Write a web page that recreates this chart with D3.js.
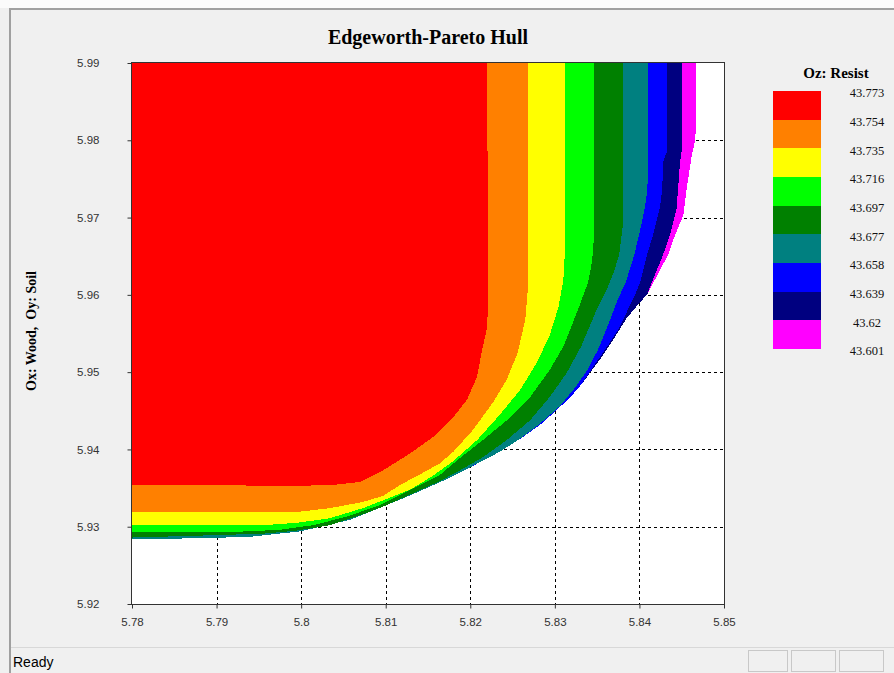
<!DOCTYPE html>
<html>
<head>
<meta charset="utf-8">
<script src="https://cdn.jsdelivr.net/npm/d3@7/dist/d3.min.js"></script>
<style>
  body { margin: 0; background: #f0f0f0; }
  svg { display: block; }
</style>
</head>
<body>
<div id="chart"></div>
<script>
// Set Dimensions
const width = 894;
const height = 673;

// Axis ticks
const xTicks = [5.78, 5.79, 5.80, 5.81, 5.82, 5.83, 5.84, 5.85];
const yTicks = [5.92, 5.93, 5.94, 5.95, 5.96, 5.97, 5.98, 5.99];

// Legend
const levelLabels = ["43.773", "43.754", "43.735", "43.716", "43.697", "43.677", "43.658", "43.639", "43.62", "43.601"];
const bandColors = ["#ff0000", "#ff8000", "#ffff00", "#00ff00", "#008000", "#008080", "#0000ff", "#000080", "#ff00ff"];

// Boundary of each band (Ox: Wood, Oy: Soil), bottom-left to top
const redEdge = [[5.78,5.9354],[5.7999,5.9353],[5.8038,5.9354],[5.8070,5.9358],[5.8097,5.9373],[5.8129,5.9395],[5.8156,5.9416],[5.8180,5.9442],[5.8196,5.9464],[5.8208,5.9494],[5.8214,5.9529],[5.8220,5.9558],[5.8221,5.9593],[5.8220,5.99]];
const orangeEdge = [[5.78,5.9319],[5.7995,5.9319],[5.8034,5.9324],[5.8073,5.9332],[5.8097,5.9340],[5.8117,5.9354],[5.8141,5.9368],[5.8164,5.9382],[5.8180,5.9397],[5.8203,5.9425],[5.8227,5.9461],[5.8243,5.9490],[5.8256,5.9525],[5.8265,5.9568],[5.8268,5.9606],[5.8268,5.99]];
const yellowEdge = [[5.78,5.9302],[5.7955,5.9302],[5.7995,5.9305],[5.8034,5.9311],[5.8073,5.9324],[5.8099,5.9335],[5.8129,5.9348],[5.8156,5.9366],[5.8180,5.9385],[5.8208,5.9412],[5.8235,5.9445],[5.8259,5.9477],[5.8279,5.9513],[5.8294,5.9548],[5.8304,5.9583],[5.8310,5.9619],[5.8312,5.9658],[5.8312,5.99]];
const greenEdge = [[5.78,5.9293],[5.7916,5.9293],[5.7975,5.9296],[5.8014,5.9302],[5.8054,5.9313],[5.8093,5.9328],[5.8132,5.9349],[5.8164,5.9367],[5.8188,5.9389],[5.8217,5.9414],[5.8247,5.9441],[5.8271,5.9468],[5.8294,5.9503],[5.8310,5.9533],[5.8326,5.9577],[5.8339,5.9615],[5.8344,5.9643],[5.8346,5.9671],[5.8346,5.99]];
const darkGreenEdge = [[5.78,5.9286],[5.7896,5.9289],[5.7955,5.9291],[5.7995,5.9295],[5.8034,5.9302],[5.8073,5.9316],[5.8099,5.9327],[5.8132,5.9343],[5.8164,5.9359],[5.8188,5.9373],[5.8215,5.9390],[5.8243,5.9412],[5.8271,5.9438],[5.8294,5.9468],[5.8314,5.9499],[5.8331,5.9533],[5.8348,5.9577],[5.8361,5.9606],[5.8370,5.9630],[5.8376,5.9652],[5.8379,5.9677],[5.8381,5.9697],[5.8381,5.99]];
const tealEdge = [[5.78,5.9284],[5.7880,5.9285],[5.7940,5.9287],[5.7999,5.9294],[5.8058,5.9309],[5.8099,5.9327],[5.8132,5.9342],[5.8173,5.9362],[5.8200,5.9377],[5.8212,5.9384],[5.8235,5.9397],[5.8259,5.9414],[5.8282,5.9433],[5.8306,5.9456],[5.8324,5.9480],[5.8338,5.9502],[5.8351,5.9529],[5.8363,5.9561],[5.8374,5.9593],[5.8384,5.9617],[5.8394,5.9652],[5.8403,5.9694],[5.8408,5.9723],[5.8410,5.9749],[5.8410,5.99]];
const blueEdge = [[5.78,5.9284],[5.7880,5.9285],[5.7940,5.9287],[5.7999,5.9294],[5.8058,5.9309],[5.8099,5.9327],[5.8132,5.9342],[5.8173,5.9362],[5.8200,5.9377],[5.8223,5.9390],[5.8241,5.9402],[5.8261,5.9415],[5.8285,5.9434],[5.8301,5.9450],[5.8318,5.9467],[5.8332,5.9485],[5.8351,5.9516],[5.8363,5.9535],[5.8375,5.9555],[5.8386,5.9580],[5.8395,5.9600],[5.8401,5.9617],[5.8409,5.9652],[5.8416,5.9677],[5.8424,5.9712],[5.8427,5.9736],[5.8428,5.9772],[5.8433,5.9787],[5.8433,5.99]];
const navyEdge = [[5.78,5.9284],[5.7880,5.9285],[5.7940,5.9287],[5.7999,5.9294],[5.8058,5.9309],[5.8099,5.9327],[5.8132,5.9342],[5.8173,5.9362],[5.8200,5.9377],[5.8223,5.9390],[5.8241,5.9402],[5.8261,5.9415],[5.8285,5.9434],[5.8301,5.9450],[5.8318,5.9467],[5.8332,5.9485],[5.8353,5.9516],[5.8369,5.9542],[5.8385,5.9570],[5.8401,5.9591],[5.8409,5.9600],[5.8415,5.9617],[5.8428,5.9652],[5.8436,5.9677],[5.8444,5.9712],[5.8448,5.9772],[5.8450,5.9787],[5.8450,5.99]];
const magentaEdge = [[5.78,5.9284],[5.7880,5.9285],[5.7940,5.9287],[5.7999,5.9294],[5.8058,5.9309],[5.8099,5.9327],[5.8132,5.9342],[5.8173,5.9362],[5.8200,5.9377],[5.8223,5.9390],[5.8241,5.9402],[5.8261,5.9415],[5.8285,5.9434],[5.8301,5.9450],[5.8318,5.9467],[5.8332,5.9485],[5.8353,5.9516],[5.8369,5.9542],[5.8385,5.9570],[5.8401,5.9591],[5.8409,5.9600],[5.8418,5.9619],[5.8434,5.9652],[5.8442,5.9677],[5.8452,5.9703],[5.8456,5.9738],[5.8462,5.9781],[5.8466,5.9800],[5.8467,5.9826],[5.8467,5.99]];

const bandEdges = [redEdge, orangeEdge, yellowEdge, greenEdge, darkGreenEdge, tealEdge, blueEdge, navyEdge, magentaEdge];

// Plot box
const plot = { left: 132, right: 724, top: 63, bottom: 604 };

var svg = d3.select("#chart")
  .append("svg")
  .attr("width", width)
  .attr("height", height);

// window frame
svg.append("rect").attr("x", 0).attr("y", 0).attr("width", width).attr("height", 8).attr("fill", "#fbfbfb");
svg.append("line").attr("x1", 10).attr("x2", width).attr("y1", 9).attr("y2", 9)
  .attr("stroke", "#a0a0a0").attr("stroke-width", 2);
svg.append("line").attr("x1", 10).attr("x2", 10).attr("y1", 8).attr("y2", height)
  .attr("stroke", "#a0a0a0").attr("stroke-width", 2);

// status bar
svg.append("line").attr("x1", 11).attr("x2", width).attr("y1", 647.5).attr("y2", 647.5)
  .attr("stroke", "#d8d8d8");
svg.append("text")
  .attr("x", 13).attr("y", 667)
  .style("font-family", "Liberation Sans, Arial, sans-serif")
  .style("font-size", "14px")
  .style("fill", "#000")
  .text("Ready");
[[748, 787], [791, 835], [839, 883]].forEach(function(p) {
  svg.append("rect")
    .attr("x", p[0] + 0.5).attr("y", 650.5)
    .attr("width", p[1] - p[0]).attr("height", 21)
    .attr("fill", "none").attr("stroke", "#c8c8c8");
});

// Scales
var xScale = d3.scaleLinear().domain([5.78, 5.85]).range([plot.left, plot.right]);
var yScale = d3.scaleLinear().domain([5.92, 5.99]).range([plot.bottom, plot.top]);

// plot background
svg.append("rect")
  .attr("x", plot.left).attr("y", plot.top)
  .attr("width", plot.right - plot.left).attr("height", plot.bottom - plot.top)
  .attr("fill", "#fff");

// dashed grid
var grid = svg.append("g").attr("stroke", "#000").attr("stroke-dasharray", "3,3").attr("stroke-width", 1);
grid.selectAll(".vg")
  .data(xTicks.slice(1, -1))
  .enter().append("line")
    .attr("x1", function(d) { return Math.round(xScale(d)) + 0.5; })
    .attr("x2", function(d) { return Math.round(xScale(d)) + 0.5; })
    .attr("y1", plot.top).attr("y2", plot.bottom);
grid.selectAll(".hg")
  .data(yTicks.slice(1, -1))
  .enter().append("line")
    .attr("y1", function(d) { return Math.round(yScale(d)) + 0.5; })
    .attr("y2", function(d) { return Math.round(yScale(d)) + 0.5; })
    .attr("x1", plot.left).attr("x2", plot.right);

// Bands, outermost first
var line = d3.line()
  .x(function(d) { return xScale(d[0]); })
  .y(function(d) { return yScale(d[1]); });

var bands = bandEdges.map(function(edge, i) {
  return { color: bandColors[i], pts: [[5.78, 5.99]].concat(edge) };
}).reverse();

svg.append("g")
  .selectAll("path")
  .data(bands)
  .enter().append("path")
    .attr("d", function(d) { return line(d.pts) + "Z"; })
    .attr("fill", function(d) { return d.color; })
    .attr("shape-rendering", "crispEdges");

// frame
svg.append("rect")
  .attr("x", plot.left - 0.5).attr("y", plot.top - 0.5)
  .attr("width", plot.right - plot.left + 1).attr("height", plot.bottom - plot.top + 1)
  .attr("fill", "none").attr("stroke", "#333");

var fmt = function(d) { return String(+d.toFixed(2)); };

// X Axis
var xAxis = svg.append("g")
  .attr("transform", "translate(0," + (plot.bottom + 0.5) + ")")
  .call(d3.axisBottom(xScale).tickValues(xTicks).tickFormat(fmt).tickSize(4).tickPadding(9));

// Y Axis
var yAxis = svg.append("g")
  .attr("transform", "translate(" + (plot.left - 0.5) + ",0)")
  .call(d3.axisLeft(yScale).tickValues(yTicks).tickFormat(fmt).tickSize(4).tickPadding(28));

[xAxis, yAxis].forEach(function(ax) {
  ax.select(".domain").remove();
  ax.selectAll("line").attr("stroke", "#333");
  ax.selectAll("text")
    .style("font-family", "Liberation Sans, Arial, sans-serif")
    .style("font-size", "11.5px")
    .style("fill", "#333");
});

// Title
svg.append("text")
  .attr("x", (plot.left + plot.right) / 2)
  .attr("y", 44)
  .style("text-anchor", "middle")
  .style("font-family", "Liberation Serif, Times New Roman, serif")
  .style("font-weight", "bold")
  .style("font-size", "20px")
  .text("Edgeworth-Pareto Hull");

// Y label
svg.append("text")
  .attr("transform", "translate(36,331) rotate(-90)")
  .style("text-anchor", "middle")
  .style("white-space", "pre")
  .style("font-family", "Liberation Serif, Times New Roman, serif")
  .style("font-weight", "bold")
  .style("font-size", "14px")
  .text("Ox: Wood,  Oy: Soil");

// Legend
var legendY = d3.scaleLinear().domain([0, bandColors.length]).range([91, 349]);

svg.append("text")
  .attr("x", 836).attr("y", 78)
  .style("text-anchor", "middle")
  .style("font-family", "Liberation Serif, Times New Roman, serif")
  .style("font-weight", "bold")
  .style("font-size", "15px")
  .text("Oz: Resist");

svg.append("g")
  .selectAll("rect")
  .data(bandColors)
  .enter().append("rect")
    .attr("x", 773)
    .attr("y", function(d, i) { return legendY(i); })
    .attr("width", 48)
    .attr("height", function(d, i) { return legendY(i + 1) - legendY(i); })
    .attr("fill", function(d) { return d; })
    .attr("shape-rendering", "crispEdges");

svg.append("g")
  .selectAll("text")
  .data(levelLabels)
  .enter().append("text")
    .attr("x", 867)
    .attr("y", function(d, i) { return legendY(i) + 2; })
    .attr("dy", "0.35em")
    .style("text-anchor", "middle")
    .style("font-family", "Liberation Serif, Times New Roman, serif")
    .style("font-size", "12.5px")
    .style("fill", "#111")
    .text(function(d) { return d; });
</script>
</body>
</html>
